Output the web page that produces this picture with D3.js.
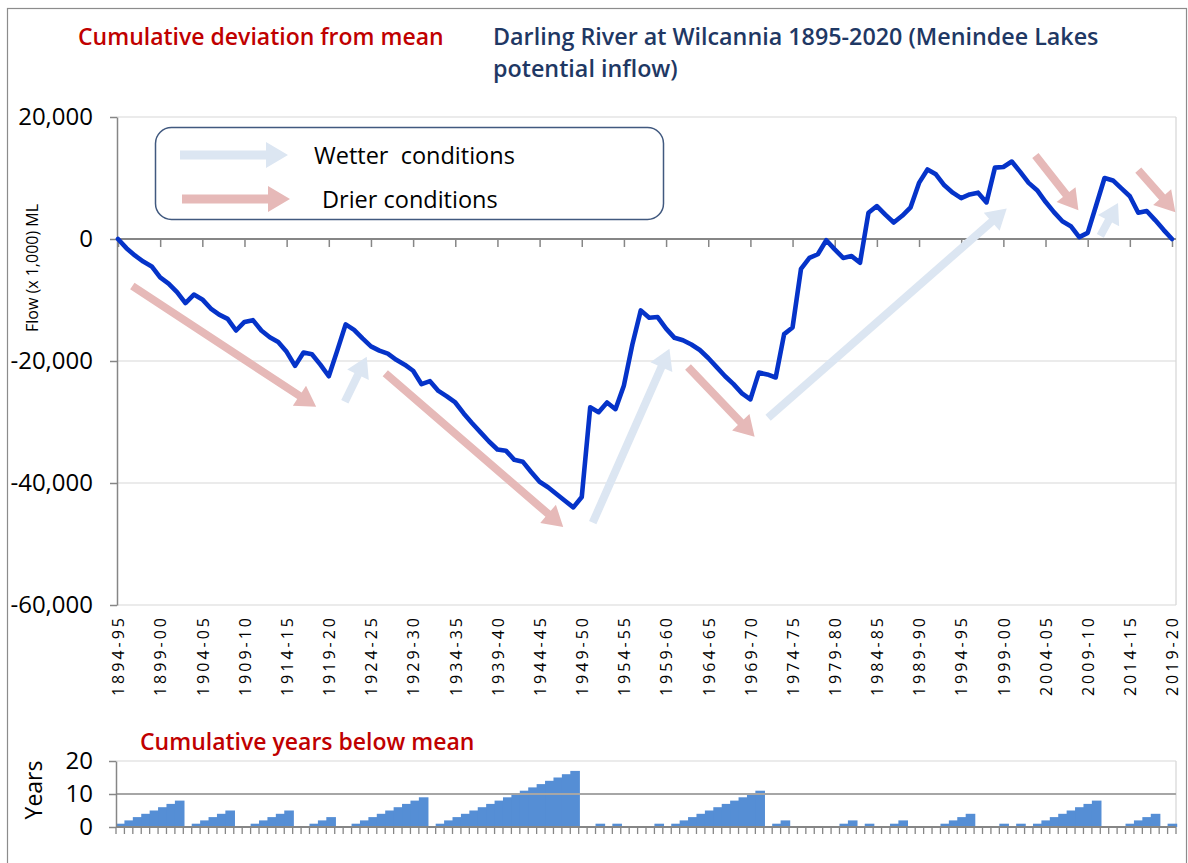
<!DOCTYPE html>
<html><head><meta charset="utf-8">
<script src="https://cdn.jsdelivr.net/npm/d3@7"></script>
<style>
body{margin:0;background:#fff}
svg{display:block}
text{font-family:"Open Sans",sans-serif}
</style>
</head><body>
<svg id="chart" width="1188" height="863"></svg>
<script>
// ---------------- DATA ----------------
const categories = [
"1894-95","1895-96","1896-97","1897-98","1898-99","1899-00",
"1900-01","1901-02","1902-03","1903-04","1904-05","1905-06","1906-07","1907-08","1908-09","1909-10",
"1910-11","1911-12","1912-13","1913-14","1914-15","1915-16","1916-17","1917-18","1918-19","1919-20",
"1920-21","1921-22","1922-23","1923-24","1924-25","1925-26","1926-27","1927-28","1928-29","1929-30",
"1930-31","1931-32","1932-33","1933-34","1934-35","1935-36","1936-37","1937-38","1938-39","1939-40",
"1940-41","1941-42","1942-43","1943-44","1944-45","1945-46","1946-47","1947-48","1948-49","1949-50",
"1950-51","1951-52","1952-53","1953-54","1954-55","1955-56","1956-57","1957-58","1958-59","1959-60",
"1960-61","1961-62","1962-63","1963-64","1964-65","1965-66","1966-67","1967-68","1968-69","1969-70",
"1970-71","1971-72","1972-73","1973-74","1974-75","1975-76","1976-77","1977-78","1978-79","1979-80",
"1980-81","1981-82","1982-83","1983-84","1984-85","1985-86","1986-87","1987-88","1988-89","1989-90",
"1990-91","1991-92","1992-93","1993-94","1994-95","1995-96","1996-97","1997-98","1998-99","1999-00",
"2000-01","2001-02","2002-03","2003-04","2004-05","2005-06","2006-07","2007-08","2008-09","2009-10",
"2010-11","2011-12","2012-13","2013-14","2014-15","2015-16","2016-17","2017-18","2018-19","2019-20"];

// Cumulative deviation from mean (x 1,000 ML)
const cumulativeDeviation = [
0,-1500,-2700,-3700,-4500,-6300,-7300,-8700,-10500,-9100,
-9900,-11400,-12400,-13100,-15000,-13600,-13300,-15000,-16100,-16900,
-18500,-20800,-18600,-18900,-20600,-22500,-18300,-14000,-14900,-16300,
-17600,-18300,-18800,-19800,-20600,-21600,-23800,-23300,-24900,-25800,
-26800,-28600,-30200,-31700,-33200,-34500,-34700,-36200,-36500,-38200,
-39800,-40700,-41800,-42900,-44000,-42300,-27600,-28400,-26800,-27900,
-24000,-17300,-11700,-12900,-12800,-14700,-16200,-16600,-17300,-18200,
-19500,-21000,-22500,-23800,-25300,-26300,-21900,-22200,-22700,-15600,
-14500,-4900,-3100,-2500,-200,-1700,-3100,-2800,-3900,4300,
5400,4000,2700,3800,5200,9200,11400,10600,8800,7600,
6700,7300,7600,6000,11700,11800,12700,11000,9200,8000,
6100,4400,2900,2100,300,1000,5500,10000,9600,8300,
7000,4300,4600,3100,1500,0];

// Cumulative years below mean
const yearsBelowMean = [
1,2,3,4,5,6,7,8,0,1,
2,3,4,5,0,0,1,2,3,4,
5,0,0,1,2,3,0,0,1,2,
3,4,5,6,7,8,9,0,1,2,
3,4,5,6,7,8,9,10,11,12,
13,14,15,16,17,0,0,1,0,1,
0,0,0,0,1,0,1,2,3,4,
5,6,7,8,9,10,11,0,1,2,
0,0,0,0,0,0,1,2,0,1,
0,0,1,2,0,0,0,0,1,2,
3,4,0,0,0,1,0,1,0,1,
2,3,4,5,6,7,8,0,0,0,
1,2,3,4,0,1];

const yTicksMain = [20000, 0, -20000, -40000, -60000];
const yTicksYears = [0, 10, 20];

// Annotation arrows: [fromIndex, fromValue, toIndex, toValue]
const wetterArrows = [
  [26.9,-26700, 29.5,-19300],
  [56.3,-46500, 65.4,-18000],
  [77.1,-29300, 105.4,5000],
  [116.5,500, 118.6,5900]
];
const drierArrows = [
  [1.7,-7700, 23.5,-27500],
  [31.7,-22000, 52.8,-47200],
  [67.6,-21000, 75.5,-32400],
  [108.8,13700, 113.9,4700],
  [121.0,11300, 125.4,4400]
];

// ---------------- DRAW ----------------
const svg = d3.select("#chart");
const W = 1188, H = 863;
const COL_WET = "#dce6f2", COL_DRY = "#e6b9b8", COL_LINE = "#0533c9",
      COL_AXIS = "#868686", COL_GRID = "#e4e4e4", COL_BAR = "#558ed5",
      COL_RED = "#c00000", COL_NAVY = "#1f3864";

svg.append("rect").attr("width", W).attr("height", H).attr("fill", "#fff");
svg.append("rect").attr("x", 7.5).attr("y", 8.5).attr("width", 1179).attr("height", 862)
  .attr("fill", "none").attr("stroke", "#8c8c8c").attr("stroke-width", 1.2);

// titles
svg.append("text").attr("x", 78).attr("y", 45).attr("font-size", 23).attr("font-weight", 600)
  .attr("fill", COL_RED).text("Cumulative deviation from mean");
svg.append("text").attr("x", 493).attr("y", 45).attr("font-size", 23.3).attr("font-weight", 600)
  .attr("fill", COL_NAVY).text("Darling River at Wilcannia 1895-2020 (Menindee Lakes");
svg.append("text").attr("x", 493).attr("y", 77).attr("font-size", 23.3).attr("font-weight", 600)
  .attr("fill", COL_NAVY).text("potential inflow)");

// main scales
const L = 117, R = 1176;
const x = d3.scalePoint().domain(categories).range([118, 1172]);
const xi = d3.scaleLinear().domain([0, categories.length - 1]).range([118, 1172]);
const y = d3.scaleLinear().domain([-60000, 20000]).range([605, 117]);

// gridlines
svg.append("g").selectAll("line").data(yTicksMain.filter(d => d !== 0)).join("line")
  .attr("x1", L).attr("x2", R).attr("y1", d => y(d)).attr("y2", d => y(d))
  .attr("stroke", COL_GRID).attr("stroke-width", 1.3);
svg.append("line").attr("x1", R).attr("x2", R).attr("y1", y(20000)).attr("y2", y(-60000))
  .attr("stroke", "#d9d9d9").attr("stroke-width", 1.3);

// y axis
const fmt = d => d3.format(",")(d).replace("\u2212", "-");
const yAxis = svg.append("g").attr("transform", `translate(${L},0)`)
  .call(d3.axisLeft(y).tickValues(yTicksMain).tickSize(7).tickSizeOuter(0).tickPadding(17).tickFormat(fmt));
yAxis.select(".domain").attr("stroke", COL_AXIS).attr("stroke-width", 1.5);
yAxis.selectAll(".tick line").attr("stroke", COL_AXIS).attr("stroke-width", 1.5);
yAxis.selectAll(".tick text").attr("font-size", 24).attr("fill", "#000").attr("font-family", "Open Sans");

// x axis at zero
const xAxis = svg.append("g").attr("transform", `translate(0,${y(0)})`)
  .call(d3.axisBottom(x).tickValues(categories.filter((d, i) => i % 5 === 0)).tickSize(8).tickSizeOuter(0).tickFormat(""));
xAxis.select(".domain").remove();
xAxis.selectAll(".tick line").attr("stroke", COL_AXIS).attr("stroke-width", 1.5);
svg.append("line").attr("x1", L).attr("x2", R).attr("y1", y(0)).attr("y2", y(0))
  .attr("stroke", COL_AXIS).attr("stroke-width", 1.8);

// x labels at bottom
const xLab = svg.append("g").attr("transform", `translate(0,${y(-60000)})`)
  .call(d3.axisBottom(x).tickValues(categories.filter((d, i) => i % 5 === 0)).tickSize(0).tickFormat(d => d));
xLab.select(".domain").remove();
xLab.selectAll(".tick text")
  .attr("transform", "rotate(-90)").attr("x", -10).attr("y", 0).attr("dy", "0.36em")
  .attr("text-anchor", "end").attr("font-size", 16).attr("fill", "#000")
  .attr("font-family", "Open Sans").style("letter-spacing", "3px");

// y axis title
svg.append("text").attr("transform", "translate(32,268) rotate(-90)")
  .attr("text-anchor", "middle").attr("dominant-baseline", "central")
  .attr("font-size", 16).attr("fill", "#000").text("Flow (x 1,000) ML");

// arrow shape
function arrowPoints(x0, y0, x1, y1, shaft, headW, headL) {
  const dx = x1 - x0, dy = y1 - y0, len = Math.hypot(dx, dy);
  const ux = dx / len, uy = dy / len, px = -uy, py = ux;
  const bx = x1 - ux * headL, by = y1 - uy * headL;
  const s = shaft / 2, h = headW / 2;
  return [
    [x0 + px * s, y0 + py * s], [bx + px * s, by + py * s], [bx + px * h, by + py * h],
    [x1, y1],
    [bx - px * h, by - py * h], [bx - px * s, by - py * s], [x0 - px * s, y0 - py * s]
  ].map(p => p.join(",")).join(" ");
}
const arrowsG = svg.append("g");
arrowsG.selectAll(".wet").data(wetterArrows).join("polygon").attr("class", "wet")
  .attr("points", d => arrowPoints(xi(d[0]), y(d[1]), xi(d[2]), y(d[3]), 8, 24, 20))
  .attr("fill", COL_WET);
arrowsG.selectAll(".dry").data(drierArrows).join("polygon").attr("class", "dry")
  .attr("points", d => arrowPoints(xi(d[0]), y(d[1]), xi(d[2]), y(d[3]), 8, 24, 20))
  .attr("fill", COL_DRY);

// line
svg.append("path").datum(cumulativeDeviation)
  .attr("d", d3.line().x((d, i) => x(categories[i])).y(d => y(d)))
  .attr("fill", "none").attr("stroke", COL_LINE).attr("stroke-width", 4.6)
  .attr("stroke-linejoin", "round").attr("stroke-linecap", "round");

// legend
const lg = svg.append("g");
lg.append("rect").attr("x", 155.5).attr("y", 127.5).attr("width", 508).attr("height", 92).attr("rx", 16)
  .attr("fill", "#fff").attr("stroke", "#41597f").attr("stroke-width", 1.5);
lg.append("polygon").attr("points", arrowPoints(180, 155, 288, 155, 9, 26, 22)).attr("fill", COL_WET);
lg.append("polygon").attr("points", arrowPoints(182, 199, 290, 199, 9, 26, 22)).attr("fill", COL_DRY);
lg.append("text").attr("x", 314).attr("y", 164).attr("font-size", 23.5).attr("fill", "#000")
  .style("white-space", "pre").text("Wetter  conditions");
lg.append("text").attr("x", 322).attr("y", 208).attr("font-size", 23.5).attr("fill", "#000")
  .text("Drier conditions");

// ---------------- BOTTOM CHART ----------------
const xb = d3.scaleBand().domain(categories).range([116, 1176]).padding(0);
const yb = d3.scaleLinear().domain([0, 20]).range([827, 761]);

svg.append("text").attr("x", 140).attr("y", 750).attr("font-size", 23).attr("font-weight", 600)
  .attr("fill", COL_RED).text("Cumulative years below mean");
svg.append("text").attr("transform", "translate(33,790) rotate(-90)")
  .attr("text-anchor", "middle").attr("dominant-baseline", "central")
  .attr("font-size", 23).attr("fill", "#000").text("Years");

svg.append("line").attr("x1", 116).attr("x2", 1176).attr("y1", yb(20)).attr("y2", yb(20))
  .attr("stroke", COL_GRID).attr("stroke-width", 1.3);
svg.append("line").attr("x1", 1176).attr("x2", 1176).attr("y1", yb(20)).attr("y2", yb(0))
  .attr("stroke", "#d9d9d9").attr("stroke-width", 1.3);

svg.append("g").selectAll("rect").data(yearsBelowMean).join("rect")
  .attr("x", (d, i) => xb(categories[i])).attr("width", xb.bandwidth() + 1.2)
  .attr("y", d => yb(d)).attr("height", d => yb(0) - yb(d))
  .attr("fill", COL_BAR);

svg.append("line").attr("x1", 116).attr("x2", 1176).attr("y1", yb(10)).attr("y2", yb(10))
  .attr("stroke", "#a6a6a6").attr("stroke-width", 1.8);

const ybAxis = svg.append("g").attr("transform", "translate(116,0)")
  .call(d3.axisLeft(yb).tickValues(yTicksYears).tickSize(7).tickSizeOuter(0).tickPadding(16));
ybAxis.select(".domain").attr("stroke", COL_AXIS).attr("stroke-width", 1.5);
ybAxis.selectAll(".tick line").attr("stroke", COL_AXIS).attr("stroke-width", 1.5);
ybAxis.selectAll(".tick text").attr("font-size", 24).attr("fill", "#000").attr("font-family", "Open Sans");

const bounds = categories.map(c => xb(c)).concat([xb.range()[1]]);
svg.append("g").selectAll("line").data(bounds).join("line")
  .attr("x1", d => d).attr("x2", d => d).attr("y1", yb(0)).attr("y2", yb(0) + 7)
  .attr("stroke", COL_AXIS).attr("stroke-width", 1.3);
svg.append("line").attr("x1", 116).attr("x2", 1176).attr("y1", yb(0)).attr("y2", yb(0))
  .attr("stroke", COL_AXIS).attr("stroke-width", 1.8);
</script>
</body></html>
